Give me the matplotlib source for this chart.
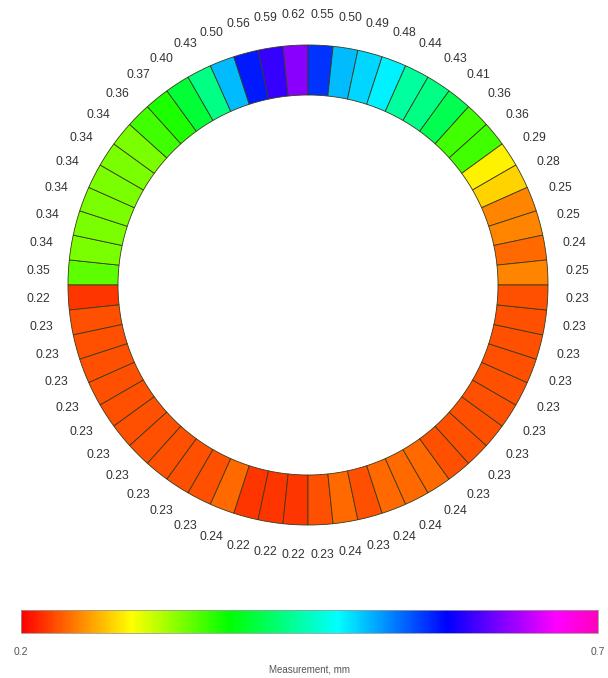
import numpy as np
import matplotlib
matplotlib.use("Agg")
import matplotlib.pyplot as plt
from matplotlib.patches import Wedge
from matplotlib.colors import LinearSegmentedColormap, Normalize
from matplotlib.cm import ScalarMappable

plt.rcParams['font.family'] = ['Liberation Sans', 'DejaVu Sans']

# upper half, from 9 o'clock going clockwise over the top to 3 o'clock
upper_values = [0.35, 0.34, 0.34, 0.34, 0.34, 0.34, 0.34, 0.36, 0.37, 0.40,
                0.43, 0.50, 0.56, 0.59, 0.62, 0.55, 0.50, 0.49, 0.48, 0.44,
                0.43, 0.41, 0.36, 0.36, 0.29, 0.28, 0.25, 0.25, 0.24, 0.25]
# lower half, from 9 o'clock going down under the bottom to 3 o'clock
lower_values = [0.22, 0.23, 0.23, 0.23, 0.23, 0.23, 0.23, 0.23, 0.23, 0.23,
                0.23, 0.24, 0.22, 0.22, 0.22, 0.23, 0.24, 0.23, 0.24, 0.24,
                0.24, 0.23, 0.23, 0.23, 0.23, 0.23, 0.23, 0.23, 0.23, 0.23]

vmin, vmax = 0.2, 0.7
cbar_label = "Measurement, mm"

cmap = LinearSegmentedColormap.from_list("meas", [
    (0.00, (1.0, 0.0, 0.0)),
    (0.19, (1.0, 1.0, 0.0)),
    (0.36, (0.0, 1.0, 0.0)),
    (0.55, (0.0, 1.0, 1.0)),
    (0.74, (0.0, 0.0, 1.0)),
    (0.93, (1.0, 0.0, 1.0)),
    (1.00, (1.0, 0.0, 0.75)),
])
norm = Normalize(vmin, vmax)

fig = plt.figure(figsize=(6.08, 6.78), dpi=100)
ax = fig.add_axes([0, 0, 1, 1])
ax.set_xlim(-308, 300)
ax.set_ylim(-393, 285)
ax.set_aspect('equal')
ax.axis('off')

r_out, r_in, r_lab = 240, 190, 270
step = 180.0 / len(upper_values)

def draw_half(values, start, direction):
    for i, v in enumerate(values):
        a0 = start + direction * i * step
        a1 = a0 + direction * step
        lo, hi = min(a0, a1), max(a0, a1)
        ax.add_patch(Wedge((0, 0), r_out, lo, hi, width=r_out - r_in,
                           facecolor=cmap(norm(v)), edgecolor='#3a3a1a',
                           linewidth=0.6))
        mid = np.deg2rad((a0 + a1) / 2)
        ax.text(r_lab * np.cos(mid), r_lab * np.sin(mid), f"{v:.2f}",
                ha='center', va='center', fontsize=8.8, color='#333333')

draw_half(upper_values, 180, -1)
draw_half(lower_values, 180, 1)

cax = fig.add_axes([0.035, 0.066, 0.948, 0.034])
cb = fig.colorbar(ScalarMappable(norm=norm, cmap=cmap), cax=cax,
                  orientation='horizontal')
cb.set_ticks([vmin, vmax])
cb.set_ticklabels([f"{vmin:g}", f"{vmax:g}"])
cb.ax.tick_params(length=0, labelsize=7.5, labelcolor='#555555', pad=10)
cb.outline.set_edgecolor('#999999')
cb.outline.set_linewidth(0.6)
cb.set_label(cbar_label, fontsize=7, color='#555555', labelpad=5)

fig.savefig("out.png", dpi=100)
